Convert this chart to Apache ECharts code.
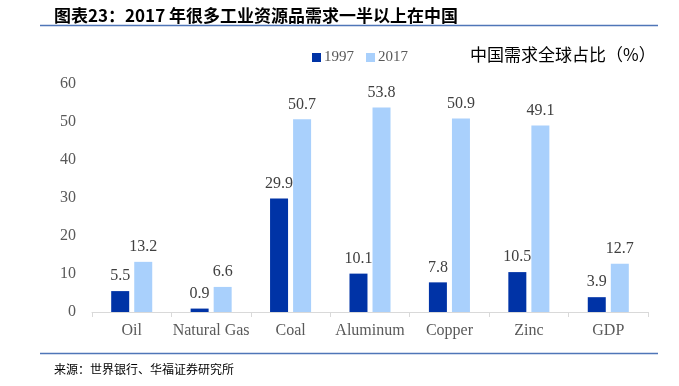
<!DOCTYPE html>
<html><head><meta charset="utf-8">
<script src="https://cdn.jsdelivr.net/npm/echarts@6/dist/echarts.min.js"></script>
<style>html,body{margin:0;padding:0;background:#fff}#c{width:679px;height:386px}</style>
</head><body><div id="c"></div>
<script>
var categories = ['Oil', 'Natural Gas', 'Coal', 'Aluminum', 'Copper', 'Zinc', 'GDP'];
var series1997 = [5.5, 0.9, 29.9, 10.1, 7.8, 10.5, 3.9];
var series2017 = [13.2, 6.6, 50.7, 53.8, 50.9, 49.1, 12.7];
var yTicks = [0, 10, 20, 30, 40, 50, 60];

var chart = echarts.init(document.getElementById('c'));
var serif = '"Liberation Serif","Times New Roman",serif';
var cjk = '"Noto Sans CJK SC",sans-serif';
chart.setOption({
  animation: false,
  title: [
    {text: '图表23：2017 年很多工业资源品需求一半以上在中国', left: 49, top: 2,
     textStyle: {fontFamily: cjk, fontSize: 17, fontWeight: 'bold', color: '#000'}},
    {text: '中国需求全球占比（%）', left: 465, top: 41,
     textStyle: {fontFamily: cjk, fontSize: 17, fontWeight: 'normal', color: '#000'}},
    {text: '来源：世界银行、华福证券研究所', left: 49, top: 358,
     textStyle: {fontFamily: cjk, fontSize: 12, fontWeight: 'normal', color: '#000'}}
  ],
  legend: {
    left: 307, top: 45, itemWidth: 9, itemHeight: 9, itemGap: 12,
    icon: 'rect',
    textStyle: {fontFamily: serif, fontSize: 15, color: '#595959', padding: [0,0,0,-2]},
    data: ['1997', '2017']
  },
  grid: {left: 92, right: 31, top: 84, bottom: 74, containLabel: false},
  xAxis: {
    type: 'category', data: categories,
    axisLine: {lineStyle: {color: '#d9d9d9'}},
    axisTick: {show: true, alignWithLabel: false, length: 5, lineStyle: {color: '#d9d9d9'}},
    axisLabel: {fontFamily: serif, fontSize: 16, color: '#595959', margin: 11, interval: 0}
  },
  yAxis: {
    type: 'value', min: 0, max: 60, interval: 10,
    axisLine: {show: false}, axisTick: {show: false}, splitLine: {show: false},
    axisLabel: {fontFamily: serif, fontSize: 16, color: '#595959', margin: 16,
      formatter: function(v){ return yTicks.indexOf(v) >= 0 ? String(v) : ''; }}
  },
  series: [
    {name: '1997', type: 'bar', data: series1997, barWidth: 18, barGap: '28%',
     itemStyle: {color: '#0033a6'},
     label: {show: true, position: 'top', distance: 7, fontFamily: serif, fontSize: 16, color: '#404040'}},
    {name: '2017', type: 'bar', data: series2017, barWidth: 18,
     itemStyle: {color: '#a9d0fc'},
     label: {show: true, position: 'top', distance: 7, fontFamily: serif, fontSize: 16, color: '#404040'}}
  ],
  graphic: [
    {type: 'line', shape: {x1: 40, y1: 25.5, x2: 658, y2: 25.5}, style: {stroke: '#4f76b8', lineWidth: 1.5}},
    {type: 'line', shape: {x1: 40, y1: 353.5, x2: 658, y2: 353.5}, style: {stroke: '#4f76b8', lineWidth: 1.5}}
  ]
});
</script></body></html>
